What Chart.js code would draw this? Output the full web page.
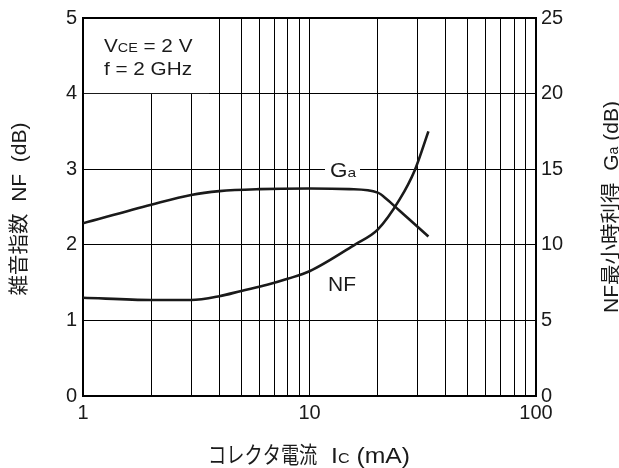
<!DOCTYPE html>
<html><head><meta charset="utf-8">
<script src="https://cdn.jsdelivr.net/npm/chart.js@4/dist/chart.umd.min.js"></script>
<style>html,body{margin:0;padding:0;background:#fff}canvas{display:block}</style>
</head><body>
<canvas id="c" width="619" height="468"></canvas>
<script>
// ---- data ----
const currentNF   = [1, 2, 3, 4, 5, 6.5, 8, 10, 16, 20, 25, 29.2, 33.5];
const noiseFigure = [1.30, 1.27, 1.27, 1.32, 1.39, 1.47, 1.55, 1.65, 2.01, 2.2, 2.6, 2.99, 3.5];
const currentGa   = [1, 2, 3, 4, 6, 10, 15, 20, 22, 25, 30, 33.5];
const gainGa      = [11.42, 12.65, 13.3, 13.55, 13.68, 13.72, 13.68, 13.45, 13.0, 12.25, 11.2, 10.55];
const xGridValues = [1,2,3,4,5,6,7,8,9,10,20,30,40,50,60,70,80,90,100];
const xTickLabels = [1, 10, 100];
const yLeftTicks  = [0, 1, 2, 3, 4, 5];
const yRightTicks = [0, 5, 10, 15, 20, 25];

const LATIN = '"Liberation Sans", Arial, sans-serif';
const CJK = '"Noto Sans CJK JP", sans-serif';
const INK = '#1a1a1a';

function fontOf(r){ return (r.size) + 'px ' + (r.cjk ? CJK : LATIN); }
function runsWidth(ctx, runs){
  let w = 0;
  for (const r of runs){ ctx.font = fontOf(r); w += ctx.measureText(r.t).width * (r.sx || 1); }
  return w;
}
function drawRuns(ctx, runs, x, y, align){
  const w = runsWidth(ctx, runs);
  let cx = align === 'center' ? x - w/2 : x;
  ctx.textAlign = 'left'; ctx.textBaseline = 'alphabetic'; ctx.fillStyle = INK;
  for (const r of runs){
    ctx.font = fontOf(r);
    const sx = r.sx || 1;
    ctx.save(); ctx.translate(cx, y); ctx.scale(sx, 1); ctx.fillText(r.t, 0, 0); ctx.restore();
    cx += ctx.measureText(r.t).width * sx;
  }
}
function drawRotated(ctx, runs, cx, cy){
  ctx.save(); ctx.translate(cx, cy); ctx.rotate(-Math.PI/2);
  drawRuns(ctx, runs, 0, 0, 'center');
  ctx.restore();
}

const decor = {
  id: 'decor',
  beforeDatasetsDraw(chart){
    const {ctx, chartArea: a, scales} = chart;
    const xs = scales.x, ys = scales.y;
    ctx.save();
    // white box behind the conditions text (grid interrupted there)
    ctx.fillStyle = '#fff';
    const bx1 = xs.getPixelForValue(3.6), by2 = ys.getPixelForValue(4);
    ctx.fillRect(a.left + 1, a.top + 1, bx1 - a.left - 1, by2 - a.top - 1.5);
    // gap in grid line behind "Ga"
    ctx.fillRect(325, ys.getPixelForValue(3) - 4, 35, 8);
    // frame
    ctx.strokeStyle = '#000'; ctx.lineWidth = 2;
    ctx.strokeRect(a.left, a.top, a.right - a.left, a.bottom - a.top);
    // conditions
    const S = 1.15;
    drawRuns(ctx, [{t:'V', size:18, sx:S}, {t:'CE', size:12.5, sx:S}, {t:' = 2 V', size:18, sx:S}], 104, 52, 'left');
    drawRuns(ctx, [{t:'f = 2 GHz', size:18, sx:S}], 104, 75, 'left');
    // curve labels
    drawRuns(ctx, [{t:'G', size:19.5, sx:S}, {t:'a', size:13.5, sx:S}], 330, 177, 'left');
    drawRuns(ctx, [{t:'NF', size:20, sx:1.05}], 328, 291, 'left');
    // axis titles
    drawRuns(ctx, [{t:'コレクタ電流', size:22.5, cjk:true, sx:0.81}, {t:'  I', size:21.5, sx:S}, {t:'C', size:14, sx:S}, {t:' (mA)', size:21.5, sx:S}], 309, 463, 'center');
    drawRotated(ctx, [{t:'雑音指数', size:20.5, cjk:true}, {t:'  NF  (dB)', size:21}], 26, 209);
    drawRotated(ctx, [{t:'NF', size:21}, {t:'最小時利得', size:20.5, cjk:true}, {t:'  G', size:21}, {t:'a', size:14}, {t:' (dB)', size:21}], 618, 207);
    ctx.restore();
  }
};

const tickFont = {family: LATIN, size: 20};

new Chart(document.getElementById('c'), {
  type: 'line',
  data: {
    datasets: [
      { label: 'NF', yAxisID: 'y', data: currentNF.map((x, i) => ({x, y: noiseFigure[i]})),
        borderColor: INK, borderWidth: 2.6, pointRadius: 0, fill: false, cubicInterpolationMode: 'monotone' },
      { label: 'Ga', yAxisID: 'y2', data: currentGa.map((x, i) => ({x, y: gainGa[i]})),
        borderColor: INK, borderWidth: 2.6, pointRadius: 0, fill: false, cubicInterpolationMode: 'monotone' }
    ]
  },
  options: {
    responsive: false, animation: false, devicePixelRatio: 1,
    layout: { padding: { top: 18, left: 0, right: 0, bottom: 0 } },
    plugins: { legend: { display: false }, tooltip: { enabled: false } },
    scales: {
      x: {
        type: 'logarithmic', min: 1, max: 100, position: 'bottom',
        afterBuildTicks: s => { s.ticks = xGridValues.map(v => ({value: v})); },
        afterFit: s => { s.height = 72; },
        ticks: { autoSkip: false, maxRotation: 0, padding: 5, color: INK, font: tickFont,
                 callback: v => xTickLabels.includes(v) ? String(v) : '' },
        grid: { color: '#000', lineWidth: 1, drawTicks: false },
        border: { display: false }
      },
      y: {
        type: 'linear', position: 'left', min: 0, max: 5,
        afterBuildTicks: s => { s.ticks = yLeftTicks.map(v => ({value: v})); },
        afterFit: s => { s.width = 83; },
        ticks: { padding: 6, color: INK, font: tickFont },
        grid: { color: '#000', lineWidth: 1, drawTicks: false },
        border: { display: false }
      },
      y2: {
        type: 'linear', position: 'right', min: 0, max: 25,
        afterBuildTicks: s => { s.ticks = yRightTicks.map(v => ({value: v})); },
        afterFit: s => { s.width = 83; },
        ticks: { padding: 5, color: INK, font: tickFont },
        grid: { display: false, drawTicks: false },
        border: { display: false }
      }
    }
  },
  plugins: [decor]
});
</script>
</body></html>
